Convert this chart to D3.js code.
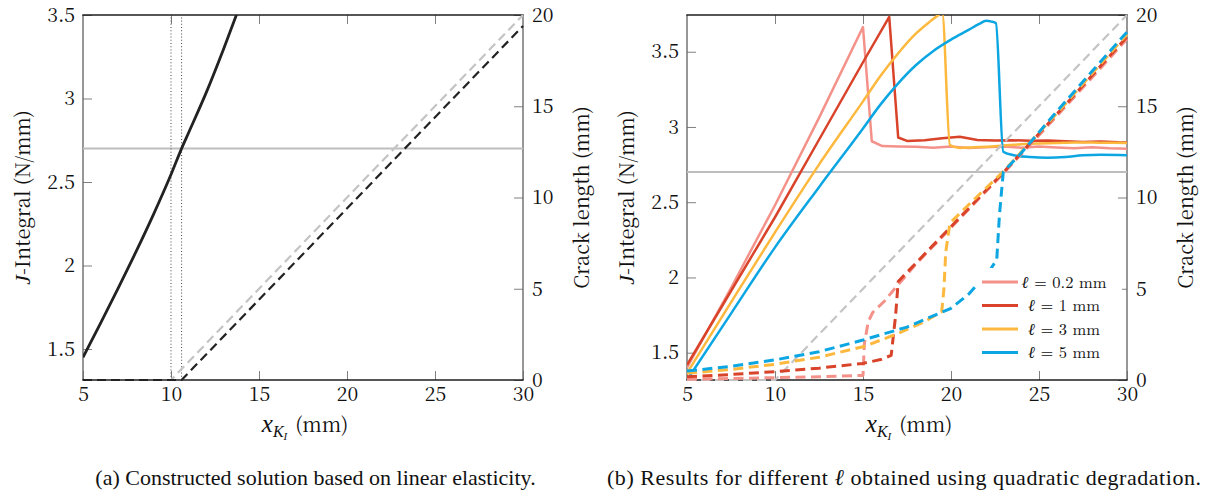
<!DOCTYPE html>
<html><head><meta charset="utf-8">
<script src="https://cdn.jsdelivr.net/npm/d3@7"></script>
<style>
html,body{margin:0;padding:0;background:#fff;}
svg{display:block;}
</style></head><body>
<svg id="fig" width="1205" height="494"></svg>
<script>
// ---------- shared axis ticks ----------
const xTicks = [5, 10, 15, 20, 25, 30];
const jTicks = [1.5, 2, 2.5, 3, 3.5];
const crackTicks = [0, 5, 10, 15, 20];
const jCritical = 2.7;

// ---------- (a) constructed solution (linear elasticity) ----------
const jLinX = [5, 6, 7, 8, 9, 10, 10.6, 11, 12, 13, 14];
const jLinJ = [1.45, 1.655, 1.865, 2.08, 2.305, 2.545, 2.70, 2.795, 3.035, 3.30, 3.58];
const crackRefX = [5, 10, 30];
const crackRefA = [0, 0, 20];
const crackLinX = [5, 10.6, 30];
const crackLinA = [0, 0, 19.4];
const markerX = [10, 10.6];

// ---------- (b) quadratic degradation, several ℓ ----------
const ellLabels = ["0.2", "1", "3", "5"];
const ellColors = ["#f4928a", "#d8432a", "#fdb83e", "#0ca6e2"];

const jX02 = [5, 7.5, 10, 12.5, 15, 15.5, 16.1, 17, 18, 19, 20, 21, 22, 23, 24, 25, 26, 27, 28, 29, 30];
const jY02 = [1.40, 1.93, 2.48, 3.06, 3.664, 2.905, 2.873, 2.87, 2.868, 2.862, 2.87, 2.86, 2.866, 2.87, 2.862, 2.87, 2.864, 2.858, 2.866, 2.858, 2.855];
const jX1 = [5, 7.5, 10, 12.5, 15, 16.49, 17.0, 17.5, 18.5, 19.5, 20.5, 21.5, 22.5, 23.5, 24.5, 25.5, 26.5, 27.5, 28.5, 29.5, 30];
const jY1 = [1.418, 1.91, 2.40, 2.915, 3.43, 3.732, 2.93, 2.907, 2.912, 2.925, 2.935, 2.914, 2.91, 2.912, 2.908, 2.91, 2.905, 2.90, 2.904, 2.898, 2.897];
const jX3 = [5, 7.5, 10, 12.5, 15, 16, 17, 18, 18.8, 19.3, 19.5, 19.94, 20.5, 21.3, 22, 23, 24, 25, 26, 27, 28, 29, 30];
const jY3 = [1.365, 1.835, 2.30, 2.75, 3.17, 3.34, 3.49, 3.62, 3.70, 3.745, 3.76, 2.88, 2.86, 2.866, 2.869, 2.877, 2.885, 2.89, 2.893, 2.897, 2.896, 2.895, 2.893];
const jX5 = [5, 7.5, 10, 12.5, 15, 16, 17, 18, 19, 20, 21, 21.6, 22, 22.3, 22.55, 22.97, 23.5, 24.5, 25.5, 26.5, 27.5, 28.5, 30];
const jY5 = [1.318, 1.76, 2.20, 2.60, 2.99, 3.15, 3.29, 3.41, 3.505, 3.58, 3.645, 3.685, 3.705, 3.70, 3.69, 2.835, 2.814, 2.80, 2.795, 2.80, 2.812, 2.815, 2.812];

const aX02 = [5, 7.5, 10, 12.5, 15, 15.08, 15.3, 15.55, 16.2, 16.8, 18, 20, 23, 26, 30];
const aY02 = [0.04, 0.08, 0.13, 0.18, 0.25, 2.0, 3.2, 3.7, 4.3, 5.0, 6.35, 8.35, 11.35, 14.45, 18.68];
const aX1 = [5, 7.5, 10, 12.5, 15, 16.0, 16.6, 16.85, 17.0, 18, 20, 23, 26, 30];
const aY1 = [0.18, 0.3, 0.46, 0.65, 0.91, 1.12, 1.35, 3.5, 5.4, 6.4, 8.4, 11.4, 14.55, 18.8];
const aX3 = [5, 7.5, 10, 12.5, 15, 17, 18.5, 19.47, 19.6, 19.7, 19.94, 21, 23, 26, 30];
const aY3 = [0.37, 0.58, 0.86, 1.25, 1.82, 2.55, 3.2, 3.74, 5.0, 7.0, 8.6, 9.6, 11.45, 14.6, 18.95];
const aX5 = [5, 7.5, 10, 12.5, 15, 17.5, 20, 21, 21.65, 22.2, 22.6, 22.75, 22.97, 24, 26, 28, 30];
const aY5 = [0.49, 0.75, 1.1, 1.55, 2.19, 2.9, 3.93, 4.7, 5.4, 6.0, 6.6, 9.0, 11.4, 12.45, 14.7, 16.9, 19.07];

const jSeries = [[jX02, jY02], [jX1, jY1], [jX3, jY3], [jX5, jY5]];
const aSeries = [[aX02, aY02], [aX1, aY1], [aX3, aY3], [aX5, aY5]];

const captionA = "(a) Constructed solution based on linear elasticity.";
const captionB = "(b) Results for different \u2113 obtained using quadratic degradation.";

// ---------- drawing helpers ----------
const svg = d3.select("#fig");
const LABEL_FONT = "'Noto Serif CJK SC', 'Liberation Serif', serif";
const MATH_FONT = "'Liberation Serif', 'Times New Roman', serif";
const CAPTION_FONT = "'Liberation Serif', 'Times New Roman', serif";
const LEGEND_FONT = "'Latin Modern Roman', 'Liberation Serif', serif";
const zip = (xs, ys) => xs.map((v, i) => [v, ys[i]]);

function makePanel(id, box, jDomain) {
  const x = d3.scaleLinear().domain([5, 30]).range([box.left, box.right]);
  const yJ = d3.scaleLinear().domain(jDomain).range([box.bottom, box.top]);
  const yA = d3.scaleLinear().domain([0, 20]).range([box.bottom, box.top]);
  const g = svg.append("g").attr("id", id);

  g.append("clipPath").attr("id", id + "-clip")
    .append("rect")
    .attr("x", box.left).attr("y", box.top)
    .attr("width", box.right - box.left).attr("height", box.bottom - box.top);

  const styleAxis = sel => {
    sel.select(".domain").remove();
    sel.selectAll(".tick line").attr("stroke", "#808080").attr("stroke-width", 1);
    sel.selectAll(".tick text").style("font-family", LABEL_FONT)
      .style("font-size", "19.5px").attr("fill", "#111");
  };

  g.append("g").attr("transform", `translate(0,${box.bottom})`)
    .call(d3.axisBottom(x).tickValues(xTicks).tickSizeInner(-9).tickSizeOuter(0).tickPadding(7).tickFormat(d3.format("d")))
    .call(styleAxis);
  g.append("g").attr("transform", `translate(0,${box.top})`)
    .call(d3.axisTop(x).tickValues(xTicks.slice(1, -1)).tickSizeInner(-9).tickSizeOuter(0).tickFormat(""))
    .call(styleAxis);
  g.append("g").attr("transform", `translate(${box.left},0)`)
    .call(d3.axisLeft(yJ).tickValues(jTicks).tickSizeInner(-9).tickSizeOuter(0).tickPadding(8).tickFormat(d => String(d)))
    .call(styleAxis);
  g.append("g").attr("transform", `translate(${box.right},0)`)
    .call(d3.axisRight(yA).tickValues(crackTicks).tickSizeInner(-9).tickSizeOuter(0).tickPadding(9).tickFormat(d3.format("d")))
    .call(styleAxis);

  // frame
  g.append("line").attr("x1", box.left).attr("x2", box.left).attr("y1", box.top).attr("y2", box.bottom)
    .attr("stroke", "#6a6a6a").attr("stroke-width", 1.4);
  g.append("line").attr("x1", box.right).attr("x2", box.right).attr("y1", box.top).attr("y2", box.bottom)
    .attr("stroke", "#6a6a6a").attr("stroke-width", 1.4);
  g.append("line").attr("x1", box.left - 0.7).attr("x2", box.right + 0.7).attr("y1", box.top).attr("y2", box.top)
    .attr("stroke", "#1e1e1e").attr("stroke-width", 1.5);
  g.append("line").attr("x1", box.left - 0.7).attr("x2", box.right + 0.7).attr("y1", box.bottom).attr("y2", box.bottom)
    .attr("stroke", "#1e1e1e").attr("stroke-width", 1.5);

  // axis titles
  const midY = (box.top + box.bottom) / 2;
  const tl = g.append("text")
    .attr("transform", `translate(${box.left - 53},${midY}) rotate(-90)`)
    .attr("text-anchor", "middle").style("font-family", LABEL_FONT).style("font-size", "20px").attr("fill", "#111");
  tl.append("tspan").style("font-family", MATH_FONT).style("font-style", "italic").style("font-size", "22px").text("J");
  tl.append("tspan").text("-Integral (N/mm)");

  g.append("text")
    .attr("transform", `translate(${box.right + 66},${midY}) rotate(-90)`)
    .attr("text-anchor", "middle").style("font-family", LABEL_FONT).style("font-size", "20px").attr("fill", "#111")
    .text("Crack length (mm)");

  const xl = g.append("text")
    .attr("x", (box.left + box.right) / 2 + 2).attr("y", box.bottom + 52)
    .attr("text-anchor", "middle").style("font-family", LABEL_FONT).attr("fill", "#111");
  xl.append("tspan").style("font-family", MATH_FONT).style("font-style", "italic").style("font-size", "25px").text("x");
  xl.append("tspan").style("font-family", MATH_FONT).style("font-style", "italic").style("font-size", "16px").attr("dy", 5).text("K");
  xl.append("tspan").style("font-family", MATH_FONT).style("font-style", "italic").style("font-size", "11px").attr("dy", 3).text("I");
  xl.append("tspan").style("font-size", "20px").attr("dy", -8).text("\u2009\u2009(mm)");

  const plot = g.append("g").attr("clip-path", `url(#${id}-clip)`);
  return { x, yJ, yA, g, plot };
}

function path(plot, pts, xs, ys, stroke, width, dash, curve) {
  const line = d3.line().curve(curve || d3.curveLinear).x(d => xs(d[0])).y(d => ys(d[1]));
  plot.append("path").datum(pts).attr("d", line)
    .attr("fill", "none").attr("stroke", stroke).attr("stroke-width", width)
    .attr("stroke-dasharray", dash || null)
    .attr("stroke-linejoin", "round");
}

// ---------- panel (a) ----------
const A = makePanel("panelA", { left: 83, right: 523, top: 15, bottom: 380 }, [1.3144, 3.5]);
A.plot.append("line")
  .attr("x1", A.x(5)).attr("x2", A.x(30)).attr("y1", A.yJ(jCritical)).attr("y2", A.yJ(jCritical))
  .attr("stroke", "#bdbdbd").attr("stroke-width", 2);
markerX.forEach(v => {
  A.plot.append("line")
    .attr("x1", A.x(v)).attr("x2", A.x(v)).attr("y1", A.yA(0)).attr("y2", A.yA(20))
    .attr("stroke", "#555").attr("stroke-width", 1.1).attr("stroke-dasharray", "1,2.2");
});
path(A.g, zip(crackRefX, crackRefA), A.x, A.yA, "#c4c4c4", 2.2, "9,5");
path(A.g, zip(crackLinX, crackLinA), A.x, A.yA, "#222", 2.2, "9,5");
path(A.plot, zip(jLinX, jLinJ), A.x, A.yJ, "#222", 2.8, null, d3.curveMonotoneX);

// ---------- panel (b) ----------
const B = makePanel("panelB", { left: 687, right: 1127, top: 15, bottom: 380 }, [1.3186, 3.744]);
B.plot.append("line")
  .attr("x1", B.x(5)).attr("x2", B.x(30)).attr("y1", B.yJ(jCritical)).attr("y2", B.yJ(jCritical))
  .attr("stroke", "#bdbdbd").attr("stroke-width", 2);
path(B.g, zip(crackRefX, crackRefA), B.x, B.yA, "#c4c4c4", 2.2, "9,5");
const jCurves = [d3.curveLinear, d3.curveLinear, d3.curveMonotoneX, d3.curveMonotoneX];
jSeries.forEach((s, i) => path(B.plot, zip(s[0], s[1]), B.x, B.yJ, ellColors[i], 2.5, null, jCurves[i]));
aSeries.forEach((s, i) => path(B.g, zip(s[0], s[1]), B.x, B.yA, ellColors[i], 3, "10,5.5"));

// legend
const leg = B.g.append("g");
leg.append("rect").attr("x", 976).attr("y", 268).attr("width", 146).attr("height", 97).attr("fill", "#fff");
ellLabels.forEach((lab, i) => {
  const cy = 282 + i * 23.5;
  leg.append("line").attr("x1", 982).attr("x2", 1018).attr("y1", cy).attr("y2", cy)
    .attr("stroke", ellColors[i]).attr("stroke-width", 3);
  const t = leg.append("text").attr("x", 1064).attr("y", cy + 5.5).attr("text-anchor", "middle")
    .style("font-family", LEGEND_FONT).style("font-size", "16.5px").attr("fill", "#111");
  t.append("tspan").style("font-style", "italic").text("\u2113");
  t.append("tspan").text(` = ${lab} mm`);
});

// captions
svg.append("text").attr("x", 315.5).attr("y", 485).attr("text-anchor", "middle")
  .style("font-family", CAPTION_FONT).style("font-size", "22px").attr("fill", "#111")
  .text(captionA);
const capB = svg.append("text").attr("x", 904).attr("y", 485).attr("text-anchor", "middle")
  .style("font-family", CAPTION_FONT).style("font-size", "22px").attr("fill", "#111");
capB.append("tspan").text("(b) Results for different ");
capB.append("tspan").style("font-style", "italic").style("font-size", "23px").text("\u2113");
capB.append("tspan").text(" obtained using quadratic degradation.");
capB.attr("textLength", 594).attr("lengthAdjust", "spacing");
</script>
</body></html>
